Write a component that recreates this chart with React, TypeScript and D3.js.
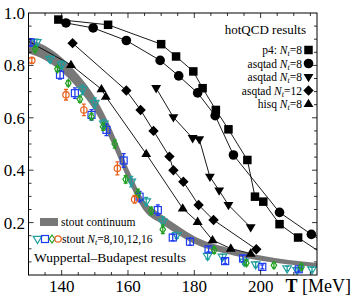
import React from 'react';
import * as d3 from 'd3';

// hotQCD (black, filled)
const p4T = [139, 154, 170, 174.5, 179.7, 182.5, 186.5, 190.3, 196, 198.3, 200.8, 205.7, 211.3];
const p4Y = [0.975, 0.955, 0.881, 0.834, 0.777, 0.713, 0.63, 0.556, 0.439, 0.299, 0.28, 0.194, 0.143];
const p4Tail = [217, 0.095];

const asq8cT = [141.3, 149.5, 159.5, 169.7, 175.3, 181, 186.3, 191.8, 205.7, 215.3];
const asq8cY = [0.962, 0.943, 0.895, 0.819, 0.76, 0.695, 0.608, 0.458, 0.239, 0.155];
const asq8cTail = [217, 0.142];

const asq8tT = [168.5, 173.7, 179.5, 181.5, 184.7, 187.5, 190.3, 197];
const asq8tY = [0.713, 0.602, 0.522, 0.518, 0.375, 0.322, 0.267, 0.182];

const asq12T = [143.3, 159.5, 163.8, 167.7, 172.5, 173.7, 176.7, 181.3, 185.8, 198.7];
const asq12Y = [0.885, 0.704, 0.63, 0.55, 0.452, 0.4, 0.356, 0.267, 0.21, 0.098];

const hisqT = [142.8, 152, 153.3, 165.5, 176.5, 181, 185.5, 191, 197];
const hisqY = [0.802, 0.709, 0.681, 0.462, 0.254, 0.203, 0.133, 0.101, 0.082];
const hisqHead = [130, 0.892];

// Wuppertal-Budapest stout continuum band
const bandT = [130, 135, 140, 145, 150, 155, 160, 165, 170, 175, 180, 190, 200, 217];
const bandLo = [0.845, 0.82, 0.775, 0.71, 0.625, 0.507, 0.362, 0.243, 0.196, 0.155, 0.119, 0.08, 0.054, 0.03];
const bandHi = [0.9, 0.875, 0.83, 0.765, 0.68, 0.558, 0.408, 0.283, 0.232, 0.188, 0.148, 0.104, 0.074, 0.046];

// stout Nt=8 (triangles)
const wb8T = [132.5, 136.5, 140, 146.3, 150, 152.7, 161, 165.5, 170.5, 174.7, 184, 188.5, 195, 198.5, 208, 211, 215.5];
const wb8Y = [0.888, 0.824, 0.802, 0.707, 0.656, 0.577, 0.356, 0.28, 0.203, 0.152, 0.072, 0.069, 0.05, 0.04, 0.025, 0.018, 0.021];
const wb8E = [0.012, 0.01, 0.014, 0.018, 0.02, 0.016, 0.02, 0.016, 0.02, 0.012, 0.012, 0.01, 0.01, 0.01, 0.008, 0.008, 0.008];
// stout Nt=10 (squares)
const wb10T = [130.7, 139.5, 144, 149, 153.5, 158.7, 163.5, 169, 173.5, 178.7, 184.3, 189.3, 194.7, 200.5, 211.5];
const wb10Y = [0.888, 0.764, 0.694, 0.611, 0.554, 0.437, 0.299, 0.248, 0.143, 0.127, 0.098, 0.053, 0.063, 0.031, 0.022];
const wb10E = [0.014, 0.016, 0.02, 0.02, 0.022, 0.026, 0.02, 0.02, 0.012, 0.014, 0.01, 0.01, 0.012, 0.008, 0.008];
// stout Nt=12 (diamonds)
const wb12T = [132, 138.7, 142, 145.5, 149, 152.5, 156, 159.3, 163, 167, 170.5, 186, 195.7, 204, 212.3];
const wb12Y = [0.862, 0.786, 0.732, 0.671, 0.605, 0.566, 0.5, 0.365, 0.312, 0.245, 0.174, 0.095, 0.046, 0.037, 0.031];
const wb12E = [0.01, 0.01, 0.01, 0.012, 0.012, 0.014, 0.016, 0.014, 0.016, 0.014, 0.016, 0.012, 0.01, 0.01, 0.01];
// stout Nt=16 (circles)
const wb16T = [131, 141.3, 146.7, 156.8, 162];
const wb16Y = [0.819, 0.688, 0.63, 0.407, 0.289];
const wb16E = [0.01, 0.02, 0.022, 0.025, 0.015];

const xTicks = [140, 160, 180, 200];
const yTicks = [0.2, 0.4, 0.6, 0.8, 1.0];

const W = 354;
const H = 300;
const m = { left: 28.5, right: 317, top: 13, bottom: 275 };

const x = d3.scaleLinear().domain([130, 217]).range([m.left, m.right]);
const y = d3.scaleLinear().domain([0, 1]).range([m.bottom, m.top]);

const CYAN = '#1f9e9e';
const BLUE = '#1e3cf0';
const GREEN = '#22a022';
const ORANGE = '#e8601c';
const GREY = '#787878';

const zip = (a: number[], b: number[]) => a.map((v, i) => [v, b[i]] as [number, number]);

const line = d3.line<[number, number]>().x(d => x(d[0])).y(d => y(d[1]));

function Marker({ kind, cx, cy, color, open }: any) {
  const fill = open ? 'none' : color;
  const sw = open ? 1.2 : 0;
  if (kind === 'square') {
    const s = open ? 7 : 8.5;
    return <rect x={cx - s / 2} y={cy - s / 2} width={s} height={s} fill={fill} stroke={color} strokeWidth={sw} />;
  }
  if (kind === 'circle') {
    return <circle cx={cx} cy={cy} r={open ? 3.2 : 4.8} fill={fill} stroke={color} strokeWidth={sw} />;
  }
  if (kind === 'diamond') {
    const s = open ? 4 : 5.2;
    const sx = open ? 2.8 : 5.2;
    return <path d={`M${cx},${cy - s}L${cx + sx},${cy}L${cx},${cy + s}L${cx - sx},${cy}Z`} fill={fill} stroke={color} strokeWidth={sw} />;
  }
  const up = kind === 'up';
  const r = open ? 4.5 : 5.2;
  const dir = up ? -1 : 1;
  const d = `M${cx},${cy + dir * r}L${cx + r * 0.95},${cy - dir * r * 0.6}L${cx - r * 0.95},${cy - dir * r * 0.6}Z`;
  return <path d={d} fill={fill} stroke={color} strokeWidth={sw} />;
}

function Nt({ v }: { v: string }) {
  return (
    <>
      <tspan fontStyle="italic">N</tspan>
      <tspan fontStyle="italic" fontSize="0.7em" dy="2">t</tspan>
      <tspan dy="-2">={v}</tspan>
    </>
  );
}

export default function App() {
  const black = [
    { t: p4T, v: p4Y, kind: 'square', tail: p4Tail },
    { t: asq8cT, v: asq8cY, kind: 'circle', tail: asq8cTail },
    { t: asq8tT, v: asq8tY, kind: 'down' },
    { t: asq12T, v: asq12Y, kind: 'diamond' },
    { t: hisqT, v: hisqY, kind: 'up', head: hisqHead },
  ];
  const wb = [
    { t: wb8T, v: wb8Y, e: wb8E, kind: 'down', color: CYAN },
    { t: wb10T, v: wb10Y, e: wb10E, kind: 'square', color: BLUE },
    { t: wb12T, v: wb12Y, e: wb12E, kind: 'diamond', color: GREEN },
    { t: wb16T, v: wb16Y, e: wb16E, kind: 'circle', color: ORANGE },
  ];

  const area = d3
    .area<number>()
    .x((_, i) => x(bandT[i]))
    .y0((_, i) => y(bandLo[i]))
    .y1((_, i) => y(bandHi[i]))
    .curve(d3.curveMonotoneX);

  const xMinor = d3.range(130, 217, 5);
  const yMinor = d3.range(0.05, 1.0, 0.05);
  const font = 'Liberation Serif, Times New Roman, serif';

  const legendRows = [
    { label: 'p4: ', v: '8', kind: 'square' },
    { label: 'asqtad ', v: '8', kind: 'circle' },
    { label: 'asqtad ', v: '8', kind: 'down' },
    { label: 'asqtad ', v: '12', kind: 'diamond' },
    { label: 'hisq ', v: '8', kind: 'up' },
  ];

  return (
    <svg width={W} height={H} style={{ position: 'absolute', left: 0, top: 0 }} fontFamily={font}>
      <rect width={W} height={H} fill="#fff" />
      <defs>
        <clipPath id="plot">
          <rect x={m.left} y={m.top} width={m.right - m.left} height={m.bottom - m.top} />
        </clipPath>
      </defs>

      <g clipPath="url(#plot)">
        <path d={area(bandT) || ''} fill={GREY} />

        {black.map((s, k) => {
          let pts = zip(s.t, s.v);
          if (s.head) pts = [[s.head[0], s.head[1]], ...pts];
          if (s.tail) pts = [...pts, [s.tail[0], s.tail[1]]];
          return <path key={k} d={line(pts) || ''} fill="none" stroke="#000" strokeWidth={0.9} />;
        })}

        {wb.map((s, k) => (
          <g key={k}>
            {s.t.map((t, i) => {
              const cx = x(t);
              const y0 = y(s.v[i] - s.e[i]);
              const y1 = y(s.v[i] + s.e[i]);
              return (
                <g key={i} stroke={s.color} strokeWidth={1.3}>
                  <line x1={cx} x2={cx} y1={y0} y2={y1} />
                  <line x1={cx - 2} x2={cx + 2} y1={y0} y2={y0} />
                  <line x1={cx - 2} x2={cx + 2} y1={y1} y2={y1} />
                </g>
              );
            })}
            {s.t.map((t, i) => (
              <Marker key={'m' + i} kind={s.kind} cx={x(t)} cy={y(s.v[i])} color={s.color} open />
            ))}
          </g>
        ))}

        {black.map((s, k) => (
          <g key={k}>
            {s.t.map((t, i) => (
              <Marker key={i} kind={s.kind} cx={x(t)} cy={y(s.v[i])} color="#000" />
            ))}
          </g>
        ))}
      </g>

      {/* frame and inward ticks */}
      <rect x={m.left} y={m.top} width={m.right - m.left} height={m.bottom - m.top} fill="none" stroke="#000" strokeWidth={1} />
      <g stroke="#000" strokeWidth={0.8}>
        {xMinor.map(t => {
          const len = t % 20 === 0 ? 5 : 3;
          return (
            <g key={'x' + t}>
              <line x1={x(t)} x2={x(t)} y1={m.bottom} y2={m.bottom - len} />
              <line x1={x(t)} x2={x(t)} y1={m.top} y2={m.top + len} />
            </g>
          );
        })}
        {yMinor.map(v => {
          const major = Math.abs(v * 5 - Math.round(v * 5)) < 1e-6;
          const len = major ? 5 : 3;
          return (
            <g key={'y' + v}>
              <line x1={m.left} x2={m.left + len} y1={y(v)} y2={y(v)} />
              <line x1={m.right} x2={m.right - len} y1={y(v)} y2={y(v)} />
            </g>
          );
        })}
      </g>

      {xTicks.map(t => (
        <text key={t} x={x(t)} y={292} textAnchor="middle" fontSize={17}>
          {t}
        </text>
      ))}
      {yTicks.map(v => (
        <text key={v} x={25} y={y(v) + 6} textAnchor="end" fontSize={17}>
          {v.toFixed(1)}
        </text>
      ))}
      <text x={351} y={292} textAnchor="end" fontSize={18}>
        <tspan fontWeight="bold">T</tspan> [MeV]
      </text>

      {/* hotQCD legend */}
      <text x={306} y={34} textAnchor="end" fontSize={13}>hotQCD results</text>
      {legendRows.map((r, i) => {
        const ly = 50 + i * 13.5;
        return (
          <g key={i}>
            <text x={302} y={ly + 4} textAnchor="end" fontSize={11.5}>
              {r.label}
              <Nt v={r.v} />
            </text>
            <Marker kind={r.kind} cx={308.5} cy={ly} color="#000" />
          </g>
        );
      })}

      {/* Wuppertal-Budapest legend */}
      <rect x={40} y={218} width={18} height={8} fill={GREY} />
      <text x={61} y={226} fontSize={11.5}>stout continuum</text>
      <Marker kind="down" cx={37.5} cy={239} color={CYAN} open />
      <Marker kind="square" cx={45} cy={239} color={BLUE} open />
      <Marker kind="diamond" cx={52} cy={239} color={GREEN} open />
      <Marker kind="circle" cx={58} cy={239} color={ORANGE} open />
      <text x={62} y={243} fontSize={11.5}>
        stout <Nt v="8,10,12,16" />
      </text>
      <text x={34} y={262} fontSize={13.5}>Wuppertal–Budapest results</text>
    </svg>
  );
}
